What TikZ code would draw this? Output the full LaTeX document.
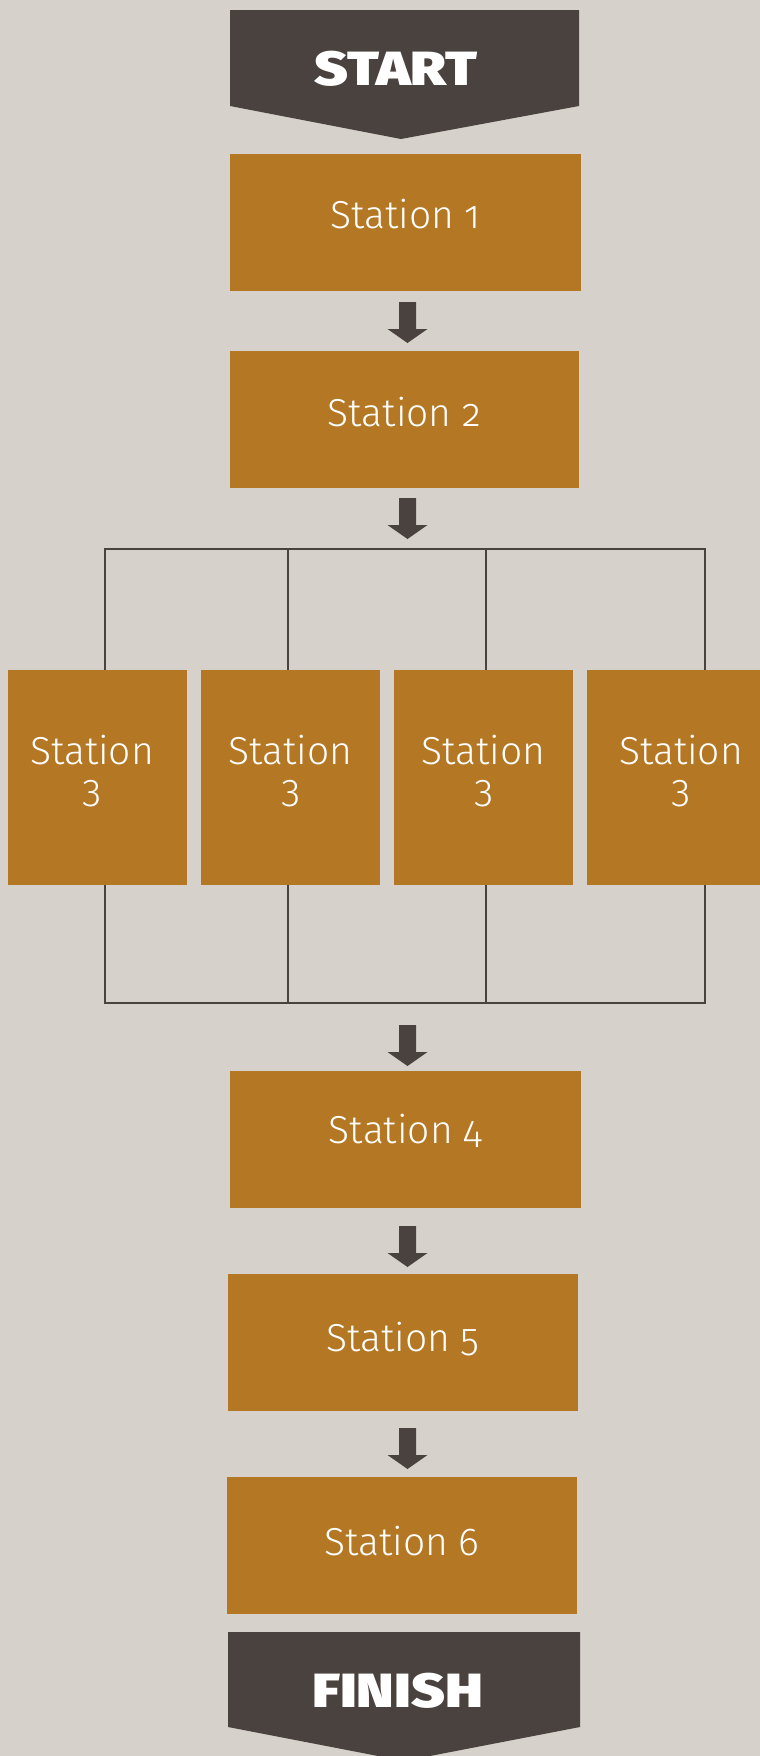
\documentclass[tikz,border=0pt]{standalone}
\usepackage{fontspec}
\setmainfont{Fira Sans}
\newfontfamily\stfont{Fira Sans}[UprightFont=* Light, Numbers=OldStyle]
\newfontfamily\hvfont{Fira Sans}[UprightFont=* Black]
\usetikzlibrary{calc}
\definecolor{bgc}{HTML}{D6D2CB}
\definecolor{orng}{HTML}{B47724}
\definecolor{drk}{HTML}{4A423E}
\tikzset{
  stbox/.style={fill=orng, inner sep=0pt, text=white, minimum height=137pt,
    font=\stfont\fontsize{39}{36}\selectfont, text height=27pt, text depth=0pt},
  pbox/.style={fill=orng, inner sep=0pt, text=white, minimum width=179pt, minimum height=215pt,
    font=\stfont\fontsize{39}{38}\selectfont, align=center, text height=49pt, text depth=0pt},
  bus/.style={draw=drk, line width=2pt},
  endtxt/.style={text=white, inner sep=0pt, font=\hvfont\fontsize{48}{48}\selectfont, anchor=base},
}
\newcommand\blockarrow[1]{\fill[drk] (#1) ++(-8.5,0) -- ++(17,0) -- ++(0,27) -- ++(11.5,0) -- ++(-20,14) -- ++(-20,-14) -- ++(11.5,0) -- cycle;}
\begin{document}
\begin{tikzpicture}[x=1pt,y=-1pt]
\useasboundingbox (0,0) rectangle (760,1756);
\clip (0,0) rectangle (760,1756);
\fill[bgc] (0,0) rectangle (760,1756);
% start
\fill[drk] (230,10) -- (579,10) -- (579,106) -- (401,139) -- (230,106) -- cycle;
\node[endtxt] (start) at (396,85) {\scalebox{1.2}[1]{START}};
% stations
\node[stbox, minimum width=351pt] (s1) at (405.5,222.5) {\raisebox{8pt}{Station 1}};
\node[stbox, minimum width=349pt] (s2) at (404.5,419.5) {\raisebox{6.5pt}{Station 2}};
\node[pbox] (s3a) at (97.5,777.5) {\hspace*{-11pt}Station\\\hspace*{-11pt}3};
\node[pbox] (s3b) at (290.5,777.5) {Station\\3};
\node[pbox] (s3c) at (483.5,777.5) {Station\\3};
\node[pbox, minimum width=188pt] (s3d) at (681,777.5) {Station\\3};
\node[stbox, minimum width=351pt] (s4) at (405.5,1139.5) {\raisebox{10pt}{Station 4}};
\node[stbox, minimum width=350pt] (s5) at (403,1342.5) {\raisebox{4.5pt}{Station 5}};
\node[stbox, minimum width=350pt] (s6) at (402,1545.5) {\raisebox{4pt}{Station 6}};
% finish
\fill[drk] (228,1632) -- (580,1632) -- (580,1727) -- (404,1761) -- (228,1727) -- cycle;
\node[endtxt] (finish) at (397.5,1707) {\scalebox{1.2}[1]{FINISH}};
% buses
\coordinate (bt) at (405,549);
\coordinate (bb) at (405,1003);
\draw[bus] ([xshift=7.5]s3a.north) |- ([xshift=24]s3d.north |- bt) -- ([xshift=24]s3d.north);
\draw[bus] ([xshift=-2.5]s3b.north) -- ([xshift=-2.5]s3b.north |- bt);
\draw[bus] ([xshift=2.5]s3c.north) -- ([xshift=2.5]s3c.north |- bt);
\draw[bus] ([xshift=7.5]s3a.south) |- ([xshift=24]s3d.south |- bb) -- ([xshift=24]s3d.south);
\draw[bus] ([xshift=-2.5]s3b.south) -- ([xshift=-2.5]s3b.south |- bb);
\draw[bus] ([xshift=2.5]s3c.south) -- ([xshift=2.5]s3c.south |- bb);
% arrows
\coordinate (a1) at (407.5,302);
\coordinate (a2) at (407.5,498);
\coordinate (a3) at (407.5,1025);
\coordinate (a4) at (407.5,1226);
\coordinate (a5) at (407.5,1428);
\blockarrow{a1}
\blockarrow{a2}
\blockarrow{a3}
\blockarrow{a4}
\blockarrow{a5}
\end{tikzpicture}
\end{document}
